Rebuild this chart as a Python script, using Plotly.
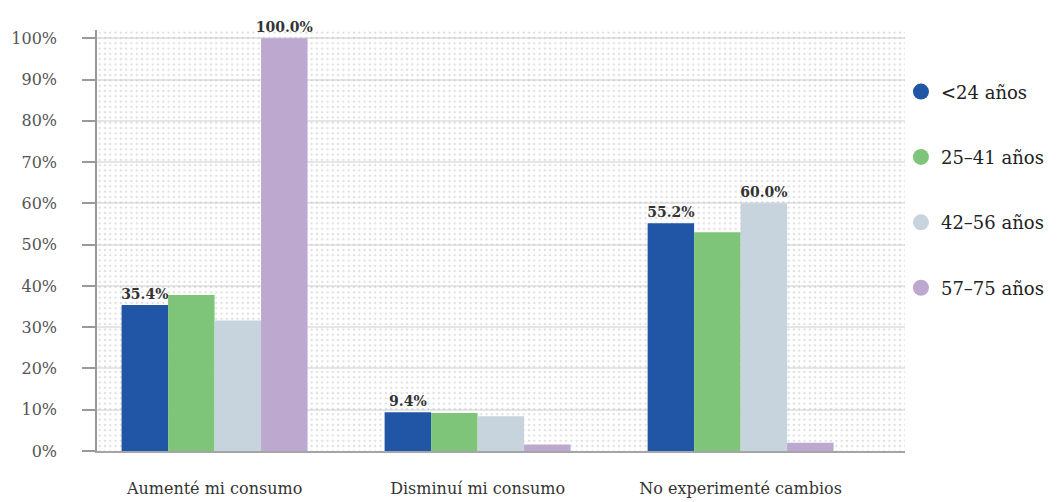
import plotly.graph_objects as go

# Survey: change in consumption by age group (share of respondents, %)
categories = ["Aumenté mi consumo", "Disminuí mi consumo", "No experimenté cambios"]
age_groups = ["<24 años", "25–41 años", "42–56 años", "57–75 años"]

menores_24 = [35.4, 9.4, 55.2]
de_25_a_41 = [37.8, 9.2, 53.0]
de_42_a_56 = [31.6, 8.4, 60.0]
de_57_a_75 = [100.0, 1.6, 2.0]

# which bars carry a value label
label_24 = [True, True, True]
label_25 = [False, False, False]
label_42 = [False, False, True]
label_57 = [True, False, False]

y_tickvals = [0, 10, 20, 30, 40, 50, 60, 70, 80, 90, 100]
y_ticktext = ["0%", "10%", "20%", "30%", "40%", "50%", "60%", "70%", "80%", "90%", "100%"]

colors = ["#2155a5", "#7ec57a", "#c7d4dd", "#bda8d0"]
series = [menores_24, de_25_a_41, de_42_a_56, de_57_a_75]
labels = [label_24, label_25, label_42, label_57]

SERIF = "DejaVu Serif"
Y_MAX = 102

fig = go.Figure()

# dotted plot background, drawn on the base subplot so the data bars sit above it
fig.add_trace(go.Bar(
    x=[0.5], y=[Y_MAX], width=[1], xaxis="x", yaxis="y",
    marker=dict(color="rgba(0,0,0,0)", line=dict(width=0),
                pattern=dict(shape=".", size=5.3, solidity=0.16,
                             fgcolor="#bdbdbd", bgcolor="rgba(0,0,0,0)",
                             fillmode="overlay")),
    hoverinfo="skip", showlegend=False,
))

for name, vals, flags, col in zip(age_groups, series, labels, colors):
    fig.add_trace(go.Bar(
        x=categories, y=vals, name=name, xaxis="x2", yaxis="y2",
        marker=dict(color=col, line=dict(width=0)),
        text=[f"{v:.1f}%" if f else "" for v, f in zip(vals, flags)],
        textposition="outside", cliponaxis=False, constraintext="none",
        textfont=dict(family=SERIF, size=14, color="#333333", weight="bold"),
        showlegend=False,
    ))
    # round legend swatch
    fig.add_trace(go.Scatter(
        x=[None], y=[None], name=name, mode="markers", xaxis="x2", yaxis="y2",
        marker=dict(color=col, size=18, symbol="circle"),
        legendgroup=name,
    ))

fig.update_layout(
    width=1057, height=502,
    margin=dict(l=97, r=152, t=30, b=51, autoexpand=False),
    paper_bgcolor="white", plot_bgcolor="white",
    barmode="group", bargap=0.293, bargroupgap=0,
    font=dict(family=SERIF, color="#555555"),
    showlegend=True,
    legend=dict(x=0.995, xanchor="left", y=0.897, yanchor="top",
                font=dict(family=SERIF, size=18, color="#222222"),
                tracegroupgap=39, traceorder="grouped",
                bgcolor="rgba(0,0,0,0)"),
    xaxis=dict(range=[0, 1], visible=False, fixedrange=True),
    yaxis=dict(range=[0, Y_MAX], tickvals=y_tickvals, ticktext=y_ticktext,
               ticks="outside", ticklen=13, tickcolor="#999999", tickwidth=1.5,
               showline=True, linecolor="#999999", linewidth=1.5,
               showgrid=True, gridcolor="#e6e6e6", gridwidth=1.5,
               zeroline=False, ticklabelstandoff=22, automargin=False,
               tickfont=dict(family=SERIF, size=16, color="#555555")),
    xaxis2=dict(overlaying="x", anchor="y2", type="category",
                range=[-0.447, 2.625], showline=True, linecolor="#a5a5a5",
                linewidth=2, ticks="", showgrid=False, ticklabelstandoff=22,
                automargin=False,
                tickfont=dict(family=SERIF, size=16, color="#333333")),
    yaxis2=dict(overlaying="y", range=[0, Y_MAX], visible=False),
)

fig.write_html("out.html")
